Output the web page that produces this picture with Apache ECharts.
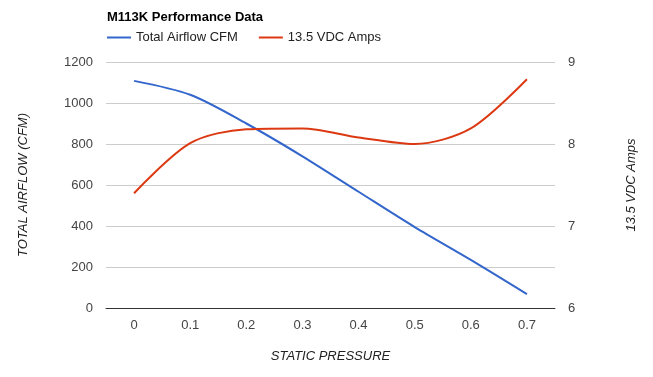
<!DOCTYPE html>
<html>
<head>
<meta charset="utf-8">
<script src="https://cdn.jsdelivr.net/npm/echarts@6/dist/echarts.min.js"></script>
<style>
  html, body { margin: 0; padding: 0; background: #fff; }
  #chart { width: 653px; height: 377px; }
</style>
</head>
<body>
<div id="chart"></div>
<script>
// static pressure categories
const pressure = ['0', '0.1', '0.2', '0.3', '0.4', '0.5', '0.6', '0.7'];
// total airflow (CFM), left axis
const airflow = [1108, 1040, 900, 740, 567, 395, 235, 68];
// 13.5 VDC amps, right axis
const amps = [7.4, 8.01, 8.18, 8.19, 8.08, 8.0, 8.19, 8.79];

const chart = echarts.init(document.getElementById('chart'));
const font = 'Liberation Sans, Arial, sans-serif';

chart.setOption({
  animation: false,
  textStyle: { fontFamily: font },
  title: {
    text: 'M113K Performance Data',
    left: 102,
    top: 6,
    textStyle: { fontSize: 13, fontWeight: 'bold', color: '#000', fontFamily: font }
  },
  legend: {
    left: 102,
    top: 26,
    icon: 'rect',
    itemWidth: 24,
    itemHeight: 2,
    itemGap: 21,
    textStyle: { fontSize: 13, color: '#222', fontFamily: font },
    data: ['Total Airflow CFM', '13.5 VDC Amps']
  },
  grid: { left: 106, right: 98, top: 62, bottom: 69 },
  xAxis: {
    type: 'category',
    data: pressure,
    boundaryGap: true,
    name: 'STATIC PRESSURE',
    nameLocation: 'middle',
    nameGap: 42,
    nameTextStyle: { fontStyle: 'italic', fontSize: 13, color: '#222', fontFamily: font },
    axisLine: { lineStyle: { color: '#333', width: 1 } },
    axisTick: { show: false },
    axisLabel: { fontSize: 13, color: '#444', margin: 11, fontFamily: font }
  },
  yAxis: [
    {
      type: 'value',
      min: 0,
      max: 1200,
      interval: 200,
      name: 'TOTAL AIRFLOW (CFM)',
      nameLocation: 'middle',
      nameGap: 76,
      nameTextStyle: { fontStyle: 'italic', fontSize: 13, color: '#222', fontFamily: font },
      axisLine: { show: false },
      axisTick: { show: false },
      axisLabel: { fontSize: 13, color: '#444', margin: 13, fontFamily: font, formatter: v => String(v) },
      splitLine: { lineStyle: { color: '#ccc' } }
    },
    {
      type: 'value',
      min: 6,
      max: 9,
      interval: 1,
      name: '13.5 VDC Amps',
      nameLocation: 'middle',
      nameGap: 70,
      nameTextStyle: { fontStyle: 'italic', fontSize: 13, color: '#222', fontFamily: font },
      axisLine: { show: false },
      axisTick: { show: false },
      axisLabel: { fontSize: 13, color: '#444', margin: 13, fontFamily: font },
      splitLine: { show: false }
    }
  ],
  series: [
    {
      name: 'Total Airflow CFM',
      type: 'line',
      yAxisIndex: 0,
      data: airflow,
      smooth: 0.3,
      showSymbol: false,
      lineStyle: { color: '#3366cc', width: 2 },
      itemStyle: { color: '#3366cc' }
    },
    {
      name: '13.5 VDC Amps',
      type: 'line',
      yAxisIndex: 1,
      data: amps,
      smooth: 0.3,
      showSymbol: false,
      lineStyle: { color: '#dc3912', width: 2 },
      itemStyle: { color: '#dc3912' }
    }
  ]
});
</script>
</body>
</html>
